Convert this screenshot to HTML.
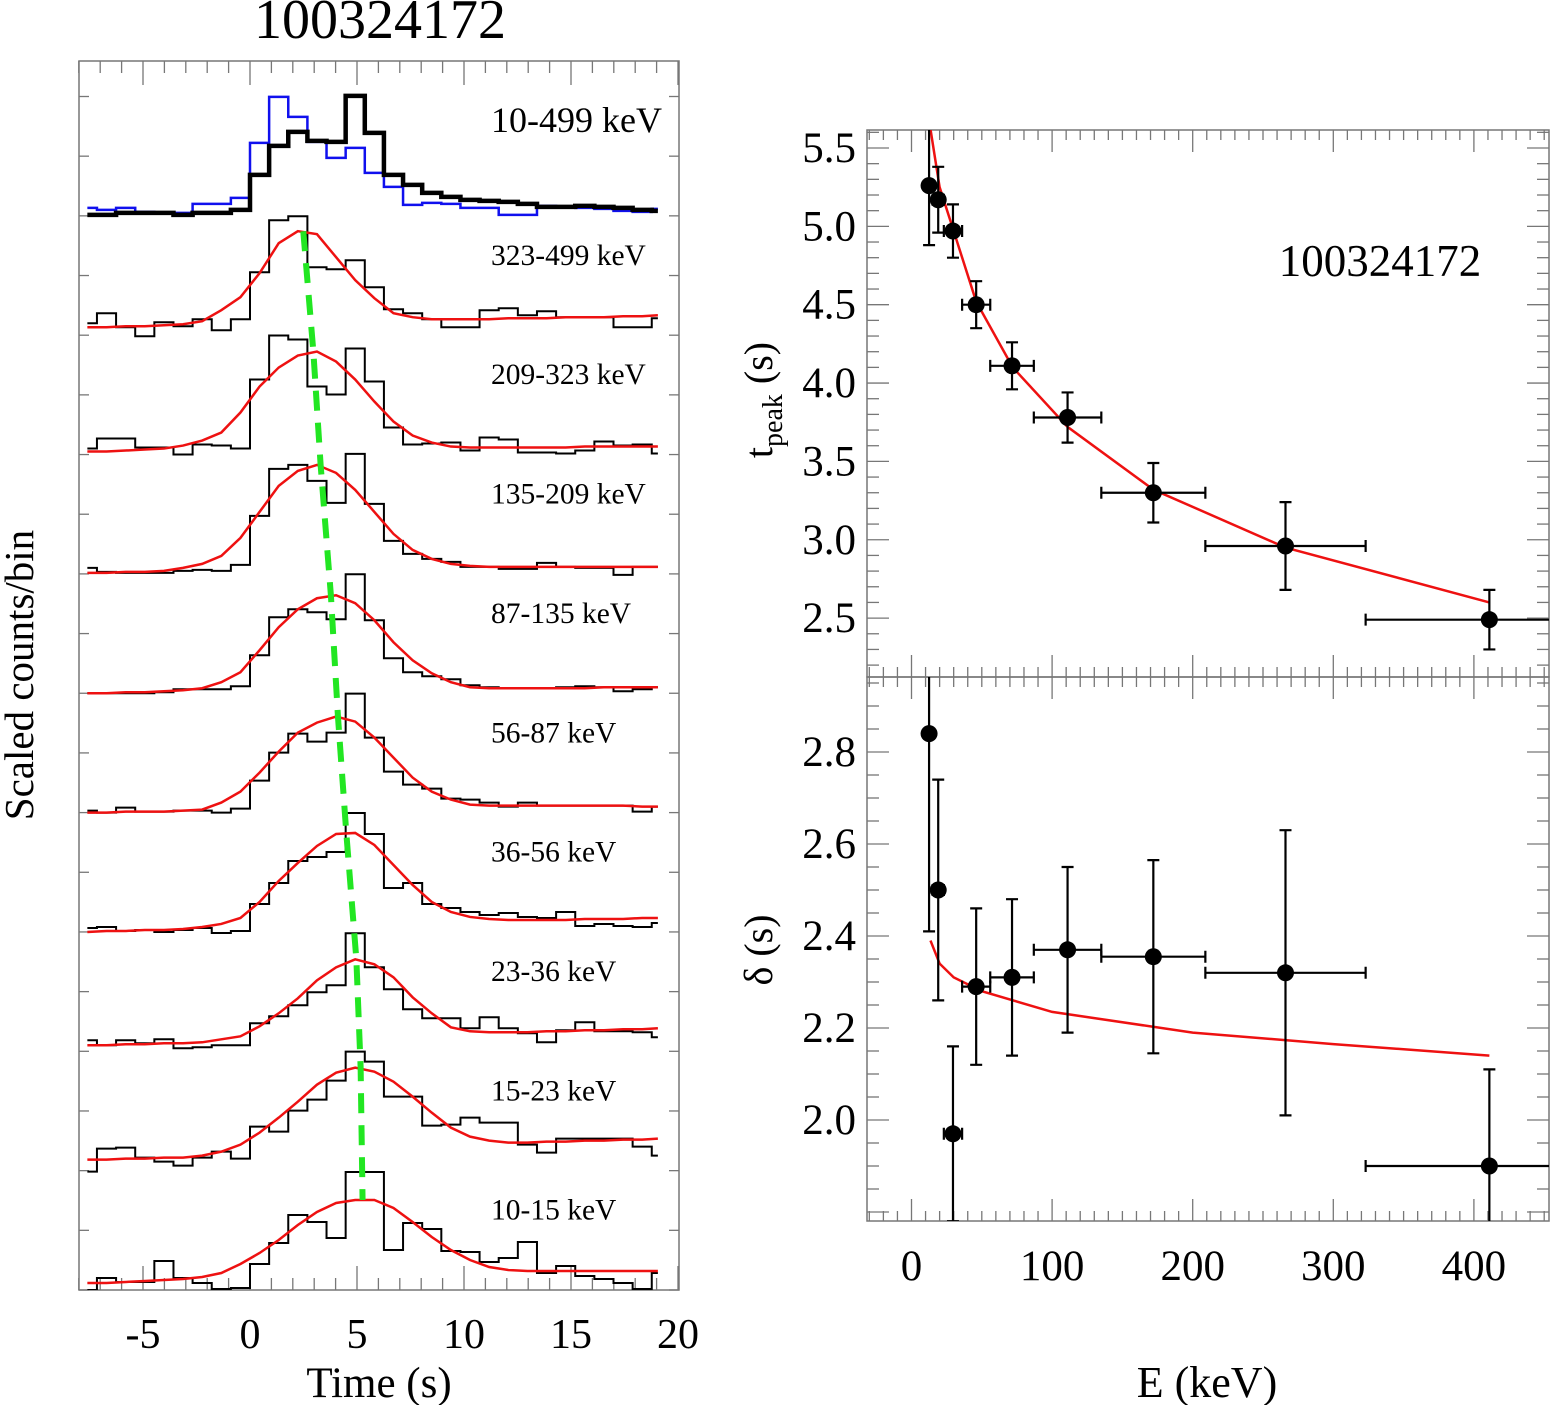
<!DOCTYPE html>
<html><head><meta charset="utf-8"><title>100324172</title>
<style>
html,body{margin:0;padding:0;background:#fff;}
svg{display:block;}
text{font-family:"Liberation Serif","DejaVu Serif",serif;fill:#000;}
</style></head>
<body>
<svg id="chart" xmlns="http://www.w3.org/2000/svg" width="1550" height="1405" viewBox="0 0 1550 1405">
<defs>
<clipPath id="clipTop"><rect x="867" y="130" width="682" height="547"/></clipPath>
<clipPath id="clipBot"><rect x="867" y="677" width="682" height="544"/></clipPath>
<clipPath id="clipLeft"><rect x="79" y="61" width="600" height="1229"/></clipPath>
</defs>
<text x="380" y="38" font-size="56" text-anchor="middle">100324172</text>
<text transform="translate(33,675) rotate(-90)" font-size="41" text-anchor="middle">Scaled counts/bin</text>
<text x="379" y="1397" font-size="43" text-anchor="middle">Time (s)</text>
<text x="1207" y="1397" font-size="44" text-anchor="middle">E (keV)</text>
<text transform="translate(772,400) rotate(-90)" font-size="40" text-anchor="middle">t<tspan font-size="28" dy="10">peak</tspan><tspan dy="-10"> (s)</tspan></text>
<text transform="translate(772,950) rotate(-90)" font-size="40" text-anchor="middle">δ (s)</text>
<text x="1380" y="276" font-size="45" text-anchor="middle">100324172</text>
<g id="g"></g>
</svg>
<script>
// ---------- Left: light curves ----------
const binWidth = 0.894;
const binIndexStart = -9;
const totalBlack = [1,1,3,3,3,1,3,3,6,41,70,84,75,74,120,83,41,31,23,19,16,15,14,12,9,9,10,9,8,6,5];
const totalBlue = [8,6,8,4,3,3,12,12,18,73,119,99,74,58,68,43,29,11,13,12,8,8,1,1,10,9,8,7,5,4,7];
const bandLabels = ["323-499 keV","209-323 keV","135-209 keV","87-135 keV","56-87 keV","36-56 keV","23-36 keV","15-23 keV","10-15 keV"];
const hist323 = [12,22,8,-1,13,9,16,5,16,63,115,119,68,66,75,48,26,22,16,8,8,25,27,20,24,18,18,18,8,8,17];
const fit323 = [8,8,9,9,10,11,14,25,38,62,92,104,101,78,55,37,22,18,16,16,16,16,17,17,17,18,18,18,19,19,20];
const hist209 = [6,16,16,7,7,0,10,9,6,75,119,115,68,60,106,73,27,10,11,12,4,17,15,2,2,1,4,13,9,10,1];
const fit209 = [3,3,4,5,6,9,14,22,42,68,87,99,103,93,75,53,33,19,12,8,7,7,7,7,7,7,8,8,8,8,8];
const hist135 = [6,2,1,1,1,3,4,3,9,58,105,109,93,71,120,70,33,20,15,12,7,7,5,5,11,7,6,6,-1,7,7];
const fit135 = [1,1,2,2,3,6,10,18,36,62,88,103,109,101,84,62,40,24,15,10,8,7,7,7,7,7,7,7,7,7,7];
const hist87 = [0,0,0,0,1,4,4,4,7,38,76,84,81,74,119,73,35,21,17,14,8,6,5,5,5,6,7,6,2,4,6];
const fit87 = [0,0,1,1,2,3,5,11,21,43,66,84,95,98,90,73,51,33,20,11,6,5,5,5,5,5,5,6,6,6,6];
const hist56 = [2,0,5,1,1,2,2,0,4,32,60,79,71,80,119,75,41,28,24,14,13,10,6,10,7,7,7,7,7,1,6];
const fit56 = [0,0,1,1,1,2,3,10,21,40,61,80,90,96,91,75,55,35,21,13,8,7,7,7,7,7,7,7,7,6,6];
const hist36 = [4,5,1,2,0,2,4,-1,1,28,49,71,75,80,119,98,44,49,28,24,20,17,19,15,14,20,6,8,6,5,9];
const fit36 = [0,1,1,2,2,3,5,8,14,30,51,69,86,98,99,87,67,47,30,20,15,13,12,12,12,12,13,13,13,14,14];
const hist23 = [11,6,11,8,12,3,4,6,6,28,35,46,59,66,118,84,62,42,33,33,23,34,23,18,9,21,29,20,20,19,14];
const fit23 = [6,6,7,7,8,8,9,12,15,25,38,53,71,84,92,87,74,54,38,24,20,19,19,19,20,20,21,21,22,22,23];
const hist15 = [-1,22,23,13,9,5,13,19,12,44,39,60,71,90,119,109,74,74,45,46,53,48,48,26,18,32,32,32,32,24,15];
const fit15 = [11,11,12,12,13,13,15,19,26,38,53,69,86,98,103,99,89,74,58,43,34,30,28,28,29,29,30,30,31,31,32];
const hist10 = [0,12,8,8,29,12,7,1,2,26,47,75,68,52,118,118,40,67,61,39,38,28,32,48,17,24,14,11,7,1,17];
const fit10 = [7,7,8,9,10,11,13,17,26,37,50,65,78,87,90,90,82,68,53,40,30,23,20,19,19,19,19,19,19,19,19];
const bandHists = [hist323,hist209,hist135,hist87,hist56,hist36,hist23,hist15,hist10];
const bandFits = [fit323,fit209,fit135,fit87,fit56,fit36,fit23,fit15,fit10];
const timeTicks = [-5,0,5,10,15,20];

// ---------- Right: lag vs energy ----------
const eLo = [10,15,23,36,56,87,135,209,323];
const eHi = [15,23,36,56,87,135,209,323,499];
const tPeak = [5.26,5.17,4.97,4.50,4.11,3.78,3.30,2.96,2.49];
const tPeakErr = [0.38,0.21,0.17,0.15,0.15,0.16,0.19,0.28,0.19];
const deltaVal = [2.84,2.50,1.97,2.29,2.31,2.37,2.355,2.32,1.90];
const deltaErr = [0.43,0.24,0.19,0.17,0.17,0.18,0.21,0.31,0.21];
const tFitE = [13.5,20,30,46,72,111,172,266,411];
const tFitV = [5.62,5.25,4.97,4.52,4.10,3.72,3.32,2.95,2.60];
const dFitE = [13.5,20,30,50,100,200,300,411];
const dFitV = [2.39,2.34,2.31,2.28,2.235,2.19,2.165,2.14];
const eTicks = [0,100,200,300,400];
const tTicks = [2.5,3.0,3.5,4.0,4.5,5.0,5.5];
const dTicks = [2.0,2.2,2.4,2.6,2.8];

const NS = "http://www.w3.org/2000/svg";
const G = document.getElementById("g");
function mk(tag, attrs, parent){
  const e = document.createElementNS(NS, tag);
  for (const k in attrs) e.setAttribute(k, attrs[k]);
  (parent||G).appendChild(e);
  return e;
}
const tx = t => 250 + t*21.4;
const L0 = 79, L1 = 679, LT = 61, LB = 1290;
const panelH = 119.35;
const panelBase = i => LB - panelH*(9-i);
const ex = e => 911.5 + e*1.406;
const tyT = v => 148 + (5.5 - v)*156.7;
const tyB = v => 1120 - (v - 2.0)*460;
const tMin = -7.6, tMax = 19.06;

function histPath(vals, base){
  let d = "";
  for (let i=0;i<vals.length;i++){
    const k = binIndexStart + i;
    const a = Math.max(tMin, k*binWidth), b = Math.min(tMax, (k+1)*binWidth);
    const y = base - vals[i];
    d += (i===0 ? "M"+tx(a)+","+y : "L"+tx(a)+","+y) + "L"+tx(b)+","+y;
  }
  return d;
}
function fitPath(vals, base){
  let d = "";
  for (let i=0;i<vals.length;i++){
    const k = binIndexStart + i;
    let t = (k+0.5)*binWidth;
    if (i===0) t = tMin; if (i===vals.length-1) t = tMax;
    d += (i===0?"M":"L") + tx(t) + "," + (base - vals[i]);
  }
  return d;
}

const lf = mk("rect",{x:L0,y:LT,width:L1-L0,height:LB-LT,fill:"none",stroke:"#777","stroke-width":1.5});


for (let t=-8;t<=20;t++){
  const len = (t%5===0)?24:12;
  const b = mk("line",{x1:tx(t),x2:tx(t),y1:LB,y2:LB-len,stroke:"#777","stroke-width":1.3});
  
  
  const tp = mk("line",{x1:tx(t),x2:tx(t),y1:LT,y2:LT+len,stroke:"#777","stroke-width":1.3});
  
  
}
for (let y=LB; y>LT+5; y-=panelH/2){
  const a = mk("line",{x1:L0,x2:L0+10,y1:y,y2:y,stroke:"#777","stroke-width":1.3});
  
  
  const b = mk("line",{x1:L1,x2:L1-10,y1:y,y2:y,stroke:"#777","stroke-width":1.3});
  
  
}
timeTicks.forEach(t=>{
  const tl = mk("text",{x:tx(t),y:1348,"font-size":42,"text-anchor":"middle"});
  tl.textContent = String(t);
  
  
});

const gl = mk("g",{"clip-path":"url(#clipLeft)"});
const pb = mk("path",{d:histPath(totalBlue,panelBase(0)),fill:"none",stroke:"#1010ee","stroke-width":2.5},gl);


const pk = mk("path",{d:histPath(totalBlack,panelBase(0)),fill:"none",stroke:"#000","stroke-width":4.5},gl);


const tl0 = mk("text",{x:662,y:132,"font-size":36,"text-anchor":"end"});
tl0.textContent = "10-499 keV";



const greenPts = [];
for (let j=0;j<9;j++){
  const base = panelBase(j+1);
  const h = mk("path",{d:histPath(bandHists[j],base),fill:"none",stroke:"#000","stroke-width":2},gl);
  
  
  const f = mk("path",{d:fitPath(bandFits[j],base),fill:"none",stroke:"#ee1111","stroke-width":2.5},gl);
  
  
  const lab = mk("text",{x:491,y:base-119.35+49,"font-size":29.5});
  lab.textContent = bandLabels[j];
  
  
  const ei = 8 - j;
  greenPts.push([tx(tPeak[ei]), base - Math.max(...bandFits[j])]);
}
const gp = mk("polyline",{points:greenPts.map(p=>p.join(",")).join(" "),fill:"none",stroke:"#22e622","stroke-width":6,"stroke-dasharray":"20 12"});



const R0 = 867, R1 = 1549, RT = 130, RM = 677, RB = 1221;
[[RT,RM,'top-plot-frame'],[RM,RB,'bottom-plot-frame']].forEach(([a,b,n])=>{
  const r = mk("rect",{x:R0,y:a,width:R1-R0,height:b-a,fill:"none",stroke:"#777","stroke-width":1.5});
  
  
});
for (let e=-30;e<=450;e+=10){
  const len = (e%100===0)?22:10;
  [[RT,1],[RM,-1],[RM,1],[RB,-1]].forEach(([y,s])=>{
    const l = mk("line",{x1:ex(e),x2:ex(e),y1:y,y2:y+s*len,stroke:"#777","stroke-width":1.3});
    
    
  });
}
for (let v=2.2; v<=5.6; v+=0.1){
  const y = tyT(v); if (y<RT||y>RM) continue;
  const len = (Math.abs(v*2-Math.round(v*2))<0.01)?22:12;
  const a = mk("line",{x1:R0,x2:R0+len,y1:y,y2:y,stroke:"#777","stroke-width":1.3});
  
  
  const b = mk("line",{x1:R1,x2:R1-len,y1:y,y2:y,stroke:"#777","stroke-width":1.3});
  
  
}
for (let v=1.8; v<=2.96; v+=0.05){
  const y = tyB(v); if (y<RM||y>RB) continue;
  const len = (Math.abs(v*5-Math.round(v*5))<0.01)?22:12;
  const a = mk("line",{x1:R0,x2:R0+len,y1:y,y2:y,stroke:"#777","stroke-width":1.3});
  
  
  const b = mk("line",{x1:R1,x2:R1-len,y1:y,y2:y,stroke:"#777","stroke-width":1.3});
  
  
}
eTicks.forEach(e=>{
  const t = mk("text",{x:ex(e),y:1280,"font-size":43,"text-anchor":"middle"});
  t.textContent = String(e);
  
  
});
tTicks.forEach(v=>{
  const t = mk("text",{x:856,y:tyT(v)+14,"font-size":43,"text-anchor":"end"});
  t.textContent = v.toFixed(1);
  
  
});
dTicks.forEach(v=>{
  const t = mk("text",{x:856,y:tyB(v)+14,"font-size":43,"text-anchor":"end"});
  t.textContent = v.toFixed(1);
  
  
});

function drawSeries(vals, errs, ys, clip, name){
  const g = mk("g",{"clip-path":"url(#"+clip+")"});
  for (let i=0;i<vals.length;i++){
    const xc = ex((eLo[i]+eHi[i])/2), yc = ys(vals[i]);
    const xa = ex(eLo[i]), xb = ex(eHi[i]);
    const ya = ys(vals[i]+errs[i]), yb = ys(vals[i]-errs[i]);
    const d = `M${xa},${yc}L${xb},${yc}M${xa},${yc-6}L${xa},${yc+6}M${xb},${yc-6}L${xb},${yc+6}` +
              `M${xc},${ya}L${xc},${yb}M${xc-6},${ya}L${xc+6},${ya}M${xc-6},${yb}L${xc+6},${yb}`;
    const eb = mk("path",{d:d,stroke:"#000","stroke-width":2.2,fill:"none"},g);
    
    
    const c = mk("circle",{cx:xc,cy:yc,r:8.5,fill:"#000"},g);
    
    
  }
  return g;
}
function drawFit(es, vs, ys, clip, name){
  const g = mk("g",{"clip-path":"url(#"+clip+")"});
  const p = mk("polyline",{points:es.map((e,i)=>ex(e)+","+ys(vs[i])).join(" "),fill:"none",stroke:"#ee1111","stroke-width":2.5},g);
  
  
}
drawFit(tFitE,tFitV,tyT,"clipTop","tpeak-fit-curve");
drawSeries(tPeak,tPeakErr,tyT,"clipTop","tpeak");
drawFit(dFitE,dFitV,tyB,"clipBot","delta-fit-curve");
drawSeries(deltaVal,deltaErr,tyB,"clipBot","delta");
</script>
</body></html>
